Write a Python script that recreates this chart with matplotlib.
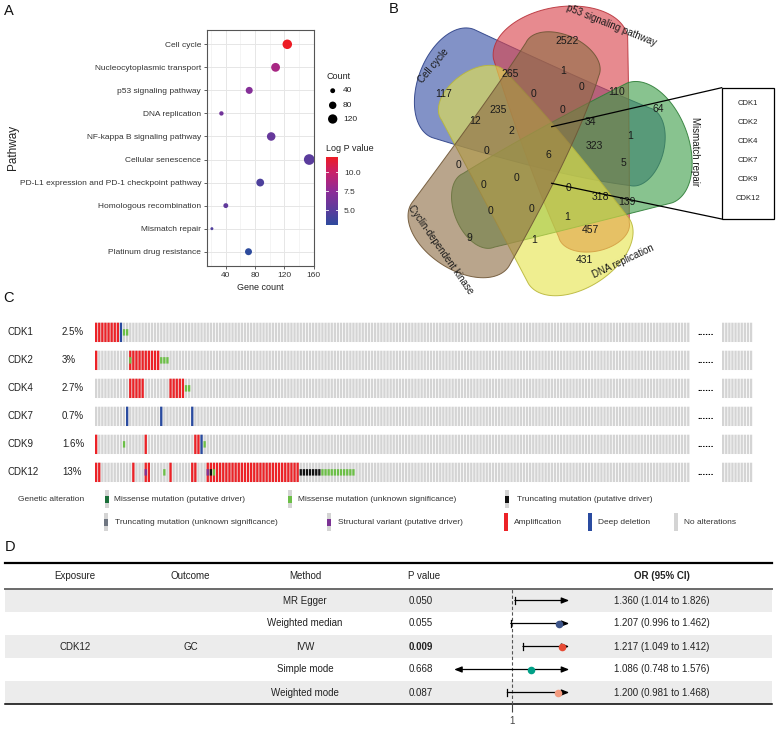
import numpy as np
import matplotlib
matplotlib.use('Agg')
import matplotlib.pyplot as plt
from matplotlib.patches import Rectangle, Polygon
from matplotlib.colors import LinearSegmentedColormap, Normalize

plt.rcParams['font.family'] = ['Liberation Sans', 'DejaVu Sans']

# ---------------- data ----------------
# Panel A
pathways = ['Cell cycle', 'Nucleocytoplasmic transport', 'p53 signaling pathway',
            'DNA replication', 'NF-kappa B signaling pathway', 'Cellular senescence',
            'PD-L1 expression and PD-1 checkpoint pathway', 'Homologous recombination',
            'Mismatch repair', 'Platinum drug resistance']
gene_count = [124, 108, 72, 34, 102, 154, 87, 40, 21, 71]
log_p = [12.06, 8.6, 7.1, 6.2, 5.6, 5.0, 4.4, 5.3, 4.6, 2.98]
count_legend = [40, 80, 120]
logp_ticks = [5.0, 7.5, 10.0]

# Panel B
venn_sets = ['Cell cycle', 'p53 signaling pathway', 'Mismatch repair',
             'DNA replication', 'Cyclin-dependent kinase']
venn_counts = [2522, 265, 1, 0, 110, 117, 0, 235, 0, 12, 64, 34, 2, 1, 323, 0, 6, 5,
               0, 0, 0, 0, 318, 139, 0, 0, 1, 457, 9, 1, 431]
core_genes = ['CDK1', 'CDK2', 'CDK4', 'CDK7', 'CDK9', 'CDK12']

# Panel C
genes = ['CDK1', 'CDK2', 'CDK4', 'CDK7', 'CDK9', 'CDK12']
alt_pct = ['2.5%', '3%', '2.7%', '0.7%', '1.6%', '13%']
n_samples_shown = 192
n_tail = 10
# runs of altered samples: (first sample, number of samples)
amp_runs = {'CDK1': [(0, 8)], 'CDK2': [(0, 1), (11, 10)], 'CDK4': [(11, 5), (24, 5)],
            'CDK7': [], 'CDK9': [(0, 1), (16, 1), (32, 2)],
            'CDK12': [(0, 2), (12, 1), (16, 2), (24, 1), (31, 2), (36, 30)]}
del_runs = {'CDK1': [(8, 1)], 'CDK2': [], 'CDK4': [],
            'CDK7': [(10, 1), (21, 1), (31, 1)], 'CDK9': [(34, 1)], 'CDK12': []}
mis_unk_runs = {'CDK1': [(9, 2)], 'CDK2': [(11, 1), (21, 3)], 'CDK4': [(29, 2)],
                'CDK7': [], 'CDK9': [(9, 1), (35, 1)],
                'CDK12': [(22, 1), (38, 1), (73, 11)]}
trunc_runs = {'CDK12': [(37, 1), (66, 7)]}
sv_runs = {'CDK12': [(16, 1), (36, 1)]}

# Panel D
methods = ['MR Egger', 'Weighted median', 'IVW', 'Simple mode', 'Weighted mode']
p_values = ['0.050', '0.055', '0.009', '0.668', '0.087']
or_val = [1.360, 1.207, 1.217, 1.086, 1.200]
or_lo = [1.014, 0.996, 1.049, 0.748, 0.981]
or_hi = [1.826, 1.462, 1.412, 1.576, 1.468]
exposure = 'CDK12'
outcome = 'GC'

# ---------------- figure ----------------
W, H = 777, 729
fig = plt.figure(figsize=(W / 100, H / 100), dpi=100)


def px_axes(l, t, r, b):
    return fig.add_axes([l / W, 1 - b / H, (r - l) / W, (b - t) / H])


ov = px_axes(0, 0, W, H)
ov.set_xlim(0, W)
ov.set_ylim(H, 0)
ov.axis('off')

TXT = '#222222'
for lab, x, y in [('A', 9, 11), ('B', 394, 9), ('C', 9, 298), ('D', 10, 547)]:
    ov.text(x, y, lab, fontsize=10.5, ha='center', va='center', color='#111111')

# ---------------- Panel A ----------------
cmap = LinearSegmentedColormap.from_list(
    'lp', [(0.0, '#2d4b9d'), (0.22, '#5a3c9c'), (0.50, '#8d2c97'),
           (0.77, '#c8206a'), (1.0, '#ed1c24')])
norm = Normalize(2.98, 12.06)


def dot_size(c):
    return np.maximum(0.41 * np.asarray(c, float) - 4.0, 2.0)


axA = px_axes(206.7, 30, 314, 266)
ypos = np.arange(len(pathways))[::-1]
axA.scatter(gene_count, ypos, s=dot_size(gene_count), c=log_p, cmap=cmap, norm=norm,
            linewidths=0, zorder=3)
axA.set_xlim(13.9, 160.5)
axA.set_ylim(-0.62, len(pathways) - 1 + 0.62)
axA.set_yticks(ypos)
axA.set_yticklabels(pathways)
axA.set_xticks([40, 80, 120, 160])
axA.set_xticks([20, 60, 100, 140], minor=True)
axA.grid(True, which='major', color='#e6e6e6', lw=0.7)
axA.grid(True, which='minor', axis='x', color='#f0f0f0', lw=0.5)
axA.set_axisbelow(True)
for s in axA.spines.values():
    s.set_color('#555555')
    s.set_linewidth(0.8)
axA.tick_params(labelsize=6, colors='#444444', length=2, width=0.6, pad=2)
axA.tick_params(which='minor', length=0)
for lbl in axA.get_yticklabels() + axA.get_xticklabels():
    lbl.set_color('#333333')
axA.set_xlabel('Gene count', fontsize=6.5, color=TXT, labelpad=3)
ov.text(13, 147, 'Pathway', rotation=90, fontsize=8.5, ha='center', va='center', color=TXT)

# size legend
ov.text(326.5, 76, 'Count', fontsize=6.5, ha='left', va='center', color=TXT)
leg_y = [90.7, 105.3, 119.0]
ov.scatter([332.7] * 3, leg_y, s=dot_size(count_legend), color='black', linewidths=0)
for v, y in zip(count_legend, leg_y):
    ov.text(343, y, str(v), fontsize=6, ha='left', va='center', color=TXT)

# colorbar
ov.text(326, 148, 'Log P value', fontsize=6.5, ha='left', va='center', color=TXT)
cax = px_axes(326, 156.7, 338.3, 225.3)
sm = plt.cm.ScalarMappable(norm=norm, cmap=cmap)
cb = fig.colorbar(sm, cax=cax)
cb.outline.set_visible(False)
cb.set_ticks(logp_ticks)
cb.set_ticklabels(['%.1f' % t for t in logp_ticks])
cax.tick_params(labelsize=6, length=0, pad=4, labelcolor='#333333')
for t in logp_ticks:
    cax.plot([0, 0.18], [t, t], color='white', lw=0.6)
    cax.plot([0.82, 1], [t, t], color='white', lw=0.6)

# ---------------- Panel B ----------------
O = np.array([548.0, 150.0])
venn_colors = ['#3550a6', '#d9434b', '#3f9f4a', '#e6e44c', '#8f6e45']
venn_edge = ['#2b3f86', '#b8323a', '#2f7e38', '#b9b73a', '#6e5535']
venn_phi = [-145, -83, -4, 73, 136]
venn_rout = [116, 103, 102, 106, 122]
venn_wout = [58, 68, 64, 60, 58]
venn_win = [40, 36, 40, 40, 40]
CAP = 0.6


def unit(deg):
    r = np.radians(deg)
    return np.array([np.cos(r), np.sin(r)])


def blob(phi, r_out, w_out, w_in):
    P0 = O + r_out * unit(phi)
    M = O + 30 * unit(phi + 79)
    P2 = O + 92 * unit(phi + 143)
    C = 2 * M - (P0 + P2) / 2
    t = np.linspace(0, 1, 150)[:, None]
    B = (1 - t) ** 2 * P0 + 2 * (1 - t) * t * C + t ** 2 * P2
    dB = 2 * (1 - t) * (C - P0) + 2 * t * (P2 - C)
    T = dB / np.linalg.norm(dB, axis=1, keepdims=True)
    N = np.column_stack([-T[:, 1], T[:, 0]])
    w = w_out + (w_in - w_out) * t
    left = B + w * N
    right = B - w * N
    k = np.linspace(0, np.pi, 60)[:, None]
    cap_in = P2 + w_in * N[-1] * np.cos(k) + CAP * w_in * T[-1] * np.sin(k)
    cap_out = P0 - w_out * N[0] * np.cos(k) - CAP * w_out * T[0] * np.sin(k)
    return np.vstack([left, cap_in, right[::-1], cap_out])


for col, ec, phi, rout, wout, win in zip(venn_colors, venn_edge, venn_phi, venn_rout,
                                         venn_wout, venn_win):
    pts = blob(phi, rout, wout, win)
    ov.add_patch(Polygon(pts, closed=True, facecolor=col, alpha=0.62, edgecolor='none',
                         zorder=2))
    ov.add_patch(Polygon(pts, closed=True, facecolor='none', edgecolor=ec, lw=0.7,
                         alpha=0.9, zorder=2))

venn_xy = [(566.7, 40.7), (510, 74), (563.3, 70.7), (581.7, 87.3), (616.7, 91.7),
           (443.3, 94), (533.3, 94.3), (498.3, 110), (562.3, 110), (475, 120.7),
           (658.3, 109.3), (590, 121.7), (511.7, 131), (630, 136), (594, 146),
           (486, 151), (548.3, 155), (623.3, 163.3), (458.3, 165), (516, 178.3),
           (483.3, 185), (568.3, 188.3), (600.7, 196.7), (626.7, 202.3), (490, 210.7),
           (531.7, 209), (566.7, 217.3), (590, 230), (469, 238), (534, 240), (584.3, 260)]
for v, (x, y) in zip(venn_counts, venn_xy):
    ov.text(x, y, str(v), fontsize=7.5, ha='center', va='center', color='#1a1a1a', zorder=4)

set_lab_xy = [(433.3, 65.7), (611.7, 25), (695, 151.7), (623.3, 261.7), (440.7, 250)]
set_lab_rot = [50, -22, -90, 25, -55]
for name, (x, y), r in zip(venn_sets, set_lab_xy, set_lab_rot):
    ov.text(x, y, name, rotation=r, fontsize=7, ha='center', va='center',
            color='#1a1a1a', rotation_mode='anchor', zorder=4)

# callout
ov.plot([551.7, 721.7], [126.7, 87.7], color='black', lw=0.9, zorder=5)
ov.plot([551.7, 721.7], [183.3, 219], color='black', lw=0.9, zorder=5)
ov.add_patch(Rectangle((721.7, 87.7), 52.3, 131.3, facecolor='white', edgecolor='black',
                       lw=0.9, zorder=5))
for g, y in zip(core_genes, [103.3, 122.3, 141, 160, 179, 198.3]):
    ov.text(748.3, y, g, fontsize=5.5, ha='center', va='center', color='#222222', zorder=6)

# ---------------- Panel C ----------------
PITCH = 3.1
axC = px_axes(95, 315, 753, 490)
axC.set_xlim(0, (753 - 95) / PITCH)
axC.set_ylim(5.63, -0.62)
axC.axis('off')
BW = 0.74
RH = 0.69
MH = RH / 3
GRAY = '#d4d4d4'
RED = '#ec2227'
BLUE = '#2a4ba0'
LGREEN = '#6cbf47'
DGREEN = '#1b6f3a'
BLACK = '#111111'
PURPLE = '#7b3294'
TAIL_X0 = (722 - 95) / PITCH

main_x = np.arange(n_samples_shown)
tail_x = TAIL_X0 + np.arange(n_tail)


def run_cols(runs):
    cols = []
    for s, n in runs:
        cols.extend(range(s, s + n))
    return np.array(cols, dtype=float)


def col_bars(xs, h, bottom, color):
    bars = axC.bar(xs, h, bottom=bottom, width=BW, align='edge', color=color, lw=0)
    for b in bars:
        b.set_snap(False)


for i, g in enumerate(genes):
    col_bars(main_x, RH, i - RH / 2, GRAY)
    col_bars(tail_x, RH, i - RH / 2, GRAY)
    for runs, colr in [(amp_runs.get(g, []), RED), (del_runs.get(g, []), BLUE)]:
        xs = run_cols(runs)
        if len(xs):
            col_bars(xs, RH, i - RH / 2, colr)
    for runs, colr in [(mis_unk_runs.get(g, []), LGREEN), (trunc_runs.get(g, []), BLACK),
                       (sv_runs.get(g, []), PURPLE)]:
        xs = run_cols(runs)
        if len(xs):
            col_bars(xs, MH, i - MH / 2, colr)
    yrow = 332.35 + 28 * i
    ov.text(8, yrow, g, fontsize=7, ha='left', va='center', color=TXT)
    ov.text(62, yrow, alt_pct[i], fontsize=7, ha='left', va='center', color=TXT)
    ov.text(706, yrow - 0.5, '......', fontsize=7, fontweight='bold', ha='center',
            va='center', color='black')

# legend of panel C
LFS = 6.0
ov.text(18, 499, 'Genetic alteration', fontsize=LFS, ha='left', va='center', color='#333333')


def leg_marker(x, y, color, full):
    if full:
        ov.add_patch(Rectangle((x - 2, y - 9), 4, 18, facecolor=color, lw=0))
    else:
        ov.add_patch(Rectangle((x - 2, y - 9), 4, 18, facecolor=GRAY, lw=0))
        ov.add_patch(Rectangle((x - 2, y - 3.5), 4, 7, facecolor=color, lw=0))


legend_items = [
    (106.7, 499, DGREEN, False, 114.3, 'Missense mutation (putative driver)'),
    (290, 499, LGREEN, False, 298.5, 'Missense mutation (unknown significance)'),
    (507, 499, BLACK, False, 516.7, 'Truncating mutation (putative driver)'),
    (106, 522, '#6f7681', False, 115, 'Truncating mutation (unknown significance)'),
    (329, 522, PURPLE, False, 338, 'Structural variant (putative driver)'),
    (506, 522, RED, True, 513.5, 'Amplification'),
    (590, 522, BLUE, True, 598, 'Deep deletion'),
    (676, 522, GRAY, True, 683.5, 'No alterations'),
]
for mx, my, colr, full, tx, label in legend_items:
    leg_marker(mx, my, colr, full)
    ov.text(tx, my, label, fontsize=LFS, ha='left', va='center', color='#333333')

# ---------------- Panel D ----------------
ROW_TOP = 589.0
ROW_H = 23.0
for i in range(len(methods)):
    if i % 2 == 0:
        ov.add_patch(Rectangle((5, ROW_TOP + i * ROW_H), 767, ROW_H, facecolor='#ececec',
                               lw=0, zorder=1))
ov.plot([5, 772], [562.7, 562.7], color='black', lw=1.6, zorder=3)
ov.plot([5, 772], [ROW_TOP, ROW_TOP], color='#6a6a6a', lw=1.4, zorder=3)
ov.plot([5, 772], [704, 704], color='black', lw=1.1, zorder=3)

hdr_y = 575.7
FS = 7
ov.text(75, hdr_y, 'Exposure', fontsize=FS, ha='center', va='center', color=TXT)
ov.text(190.7, hdr_y, 'Outcome', fontsize=FS, ha='center', va='center', color=TXT)
ov.text(305, hdr_y, 'Method', fontsize=FS, ha='center', va='center', color=TXT)
ov.text(408.3, hdr_y, 'P value', fontsize=FS, ha='left', va='center', color=TXT)
ov.text(662, hdr_y, 'OR (95% CI)', fontsize=FS, ha='center', va='center', color=TXT,
        fontweight='bold')
mid_row = len(methods) // 2
ov.text(75, ROW_TOP + (mid_row + 0.5) * ROW_H, exposure, fontsize=FS, ha='center',
        va='center', color=TXT)
ov.text(190.7, ROW_TOP + (mid_row + 0.5) * ROW_H, outcome, fontsize=FS, ha='center',
        va='center', color=TXT)
for i, (m, p, o, lo, hi) in enumerate(zip(methods, p_values, or_val, or_lo, or_hi)):
    y = ROW_TOP + (i + 0.5) * ROW_H
    ov.text(305, y, m, fontsize=FS, ha='center', va='center', color=TXT)
    ov.text(408.3, y, p, fontsize=FS, ha='left', va='center', color=TXT,
            fontweight='bold' if float(p) < 0.05 else 'normal')
    ov.text(662, y, '%.3f (%.3f to %.3f)' % (o, lo, hi), fontsize=FS, ha='center',
            va='center', color=TXT)

XMIN, XMAX = 0.75, 1.25
axF = px_axes(454.2, ROW_TOP, 569.2, ROW_TOP + 5 * ROW_H)
axF.set_facecolor('none')
axF.set_xlim(XMIN, XMAX)
axF.set_ylim(len(methods) - 0.5, -0.5)
for s in ['top', 'left', 'right', 'bottom']:
    axF.spines[s].set_visible(False)
axF.set_yticks([])
axF.set_xticks([1])
axF.set_xticklabels(['1'])
axF.tick_params(axis='x', length=6, width=0.8, colors='#444444', labelsize=7, pad=3)
axF.axvline(1, color='#555555', lw=0.8, ls=(0, (3, 2)), zorder=1)
pt_colors = ['#3C5488', '#3C5488', '#E64B35', '#00A087', '#F39B7F']
for i, (o, lo, hi) in enumerate(zip(or_val, or_lo, or_hi)):
    xl = max(lo, XMIN)
    xr = min(hi, XMAX)
    left_arrow = lo < XMIN
    right_arrow = hi > XMAX
    style = ('<|-|>' if left_arrow and right_arrow else '-|>' if right_arrow
             else '<|-' if left_arrow else '-')
    axF.annotate('', xy=(xr, i), xytext=(xl, i),
                 arrowprops=dict(arrowstyle=style + ',head_length=0.45,head_width=0.18',
                                 color='black', lw=0.9, shrinkA=0, shrinkB=0),
                 annotation_clip=False, zorder=3)
    if not left_arrow:
        axF.plot([lo, lo], [i - 0.14, i + 0.14], color='black', lw=0.9, zorder=3)
    if XMIN <= o <= XMAX and i > 0:
        axF.scatter([o], [i], s=30, color=pt_colors[i], zorder=4, linewidths=0)

fig.savefig('out.png', dpi=100)
